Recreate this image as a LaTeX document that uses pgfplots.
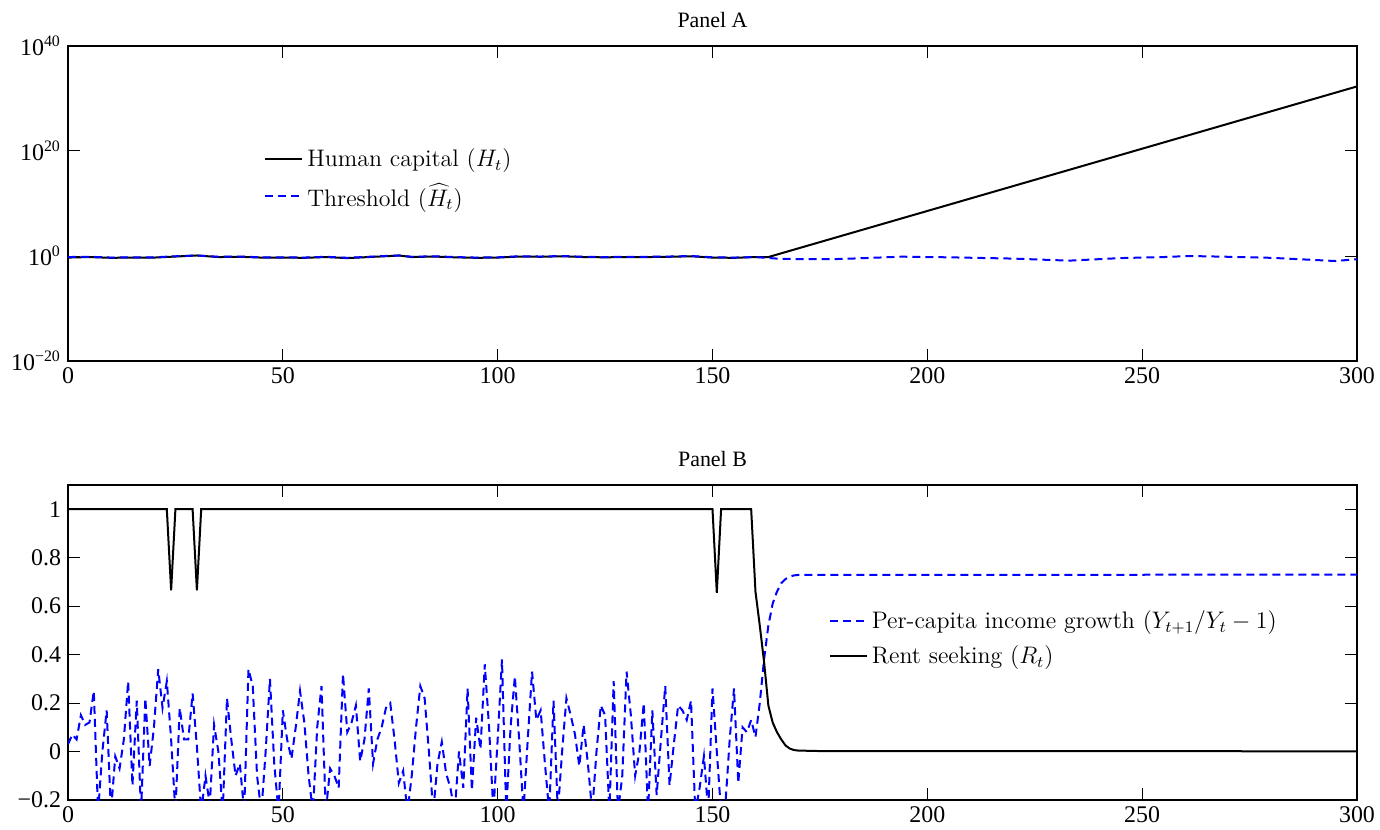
\documentclass[border=0pt]{standalone}
\usepackage{fontspec}
\usepackage{pgfplots}
\pgfplotsset{compat=1.18}
\newfontfamily\tnr{Liberation Serif}
\definecolor{mblue}{RGB}{0,0,255}
\pgfplotsset{
  every axis/.append style={
    scale only axis, width=644.5bp, height=157.5bp,
    xmin=0, xmax=300, xtick={0,50,...,300},
    tick align=inside, major tick length=6bp,
    axis line style={line width=0.6bp},
    tick style={black, line width=0.5bp},
    tick label style={font=\tnr\fontsize{12}{14}\selectfont},
    /pgf/number format/assume math mode=true,
    title style={font=\tnr\fontsize{11}{13}\selectfont, at={(0.5,1)}, anchor=south, yshift=-0.5bp},
    legend cell align=left,
    legend style={draw=none, fill=none, font=\fontsize{12}{14}\selectfont, inner sep=0pt},
    legend image code/.code={\draw[#1] (0bp,0bp) -- (18.5bp,0bp);},
    clip=true,
  },
}
\begin{document}
\begin{tikzpicture}
\path[use as bounding box] (-34bp,-234.5bp) rectangle (656bp,180.5bp);
\begin{axis}[name=A, at={(0,0)}, anchor=south west,
  title={Panel A},
  ymode=log, ymin=1e-20, ymax=1e40,
  ytick={1e-20,1,1e20,1e40}, yminorticks=false,
  yticklabels={10\textsuperscript{−20},10\textsuperscript{0},10\textsuperscript{20},10\textsuperscript{40}},
  legend style={at={(0.152,0.688)}, anchor=north west, row sep=3bp},
]
\addplot[black, line width=1bp] coordinates {
(0,0.50) (5,0.63) (10,0.45) (15,0.50) (20,0.50) (25,0.79) (30,1.26) (35,0.63) (40,0.71) (45,0.50)
(50,0.50) (55,0.45) (60,0.63) (65,0.40) (70,0.63) (75,1.00) (77,1.26) (80,0.63) (85,0.79) (90,0.56)
(95,0.45) (100,0.50) (105,0.79) (110,0.71) (115,0.89) (120,0.63) (125,0.56) (130,0.63) (135,0.63)
(140,0.71) (145,0.89) (150,0.50) (155,0.45) (160,0.63) (163,0.63) (300,2e32)};
\addlegendentry{Human capital ($H_t$)}
\addplot[mblue, line width=1bp, dash pattern=on 4bp off 2.5bp] coordinates {
(0,0.63) (5,0.71) (10,0.50) (15,0.56) (20,0.56) (25,0.89) (30,1.26) (35,0.71) (40,0.79) (45,0.56)
(50,0.56) (55,0.50) (60,0.71) (65,0.45) (70,0.71) (75,1.12) (77,1.26) (80,0.71) (85,0.89) (90,0.63)
(95,0.50) (100,0.56) (105,0.89) (110,0.79) (115,1.00) (120,0.71) (125,0.63) (130,0.71) (135,0.71)
(140,0.79) (145,1.00) (150,0.56) (155,0.50) (160,0.63) (165,0.32) (170,0.25) (180,0.27) (194,0.74)
(205,0.56) (220,0.32) (233,0.13) (245,0.40) (255,0.63) (261,1.00) (270,0.71) (280,0.45) (295,0.11) (300,0.25)};
\addlegendentry{Threshold ($\widehat{H}_t$)}
\end{axis}

\begin{axis}[name=B, at={(0,-219.5bp)}, anchor=south west,
  title={Panel B},
  ymin=-0.2, ymax=1.1,
  ytick={-0.2,0,0.2,0.4,0.6,0.8,1},
  yticklabels={−0.2,0,0.2,0.4,0.6,0.8,1},
  legend style={at={(0.59,0.615)}, anchor=north west, row sep=3bp},
]
\addplot[mblue, line width=1bp, dash pattern=on 4bp off 2.5bp] table {
x y
0 0.03
1 0.07
2 0.05
3 0.15
4 0.11
5 0.12
6 0.25
7 -0.25
8 0.00
9 0.17
10 -0.25
11 -0.02
12 -0.07
13 0.05
14 0.29
15 -0.14
16 0.21
17 -0.25
18 0.22
19 -0.06
20 0.10
21 0.34
22 0.18
23 0.29
24 0.05
25 -0.25
26 0.18
27 0.05
28 0.05
29 0.24
30 0.02
31 -0.25
32 -0.10
33 -0.22
34 0.11
35 0.00
36 -0.25
37 0.22
38 0.05
39 -0.10
40 -0.05
41 -0.25
42 0.34
43 0.27
44 -0.10
45 -0.25
46 0.00
47 0.30
48 -0.05
49 -0.25
50 0.17
51 0.05
52 -0.03
53 0.10
54 0.25
55 0.12
56 -0.10
57 -0.25
58 0.10
59 0.27
60 -0.25
61 -0.07
62 -0.10
63 -0.15
64 0.32
65 0.08
66 0.12
67 0.19
68 -0.04
69 0.05
70 0.26
71 -0.05
72 0.05
73 0.10
74 0.18
75 0.20
76 0.05
77 -0.13
78 -0.08
79 -0.25
80 -0.10
81 0.10
82 0.27
83 0.22
84 0.00
85 -0.25
86 -0.05
87 0.04
88 -0.09
89 -0.15
90 -0.25
91 0.00
92 -0.15
93 0.26
94 -0.16
95 0.14
96 0.01
97 0.36
98 0.10
99 -0.25
100 0.05
101 0.38
102 -0.25
103 0.10
104 0.31
105 0.05
106 -0.25
107 0.05
108 0.33
109 0.13
110 0.17
111 -0.05
112 -0.25
113 0.21
114 -0.25
115 0.00
116 0.22
117 0.15
118 0.07
119 -0.06
120 0.11
121 -0.05
122 -0.25
123 0.00
124 0.19
125 0.15
126 -0.25
127 0.29
128 -0.25
129 -0.10
130 0.33
131 0.15
132 -0.10
133 0.00
134 0.20
135 -0.25
136 0.17
137 -0.18
138 0.05
139 0.27
140 -0.14
141 0.03
142 0.19
143 0.17
144 0.13
145 0.21
146 -0.25
147 -0.15
148 -0.02
149 -0.25
150 0.26
151 0.00
152 -0.25
153 -0.22
154 0.05
155 0.26
156 -0.13
157 0.10
158 0.08
159 0.13
160 0.06
161 0.20
162 0.38
163 0.52
164 0.61
165 0.66
166 0.695
167 0.712
168 0.722
169 0.727
170 0.729
300 0.73
};
\addlegendentry{Per-capita income growth ($Y_{t+1}/Y_t-1$)}
\addplot[black, line width=1bp] coordinates {
(0,1) (23,1) (24,0.665) (25,1) (29,1) (30,0.665) (31,1) (150,1) (151,0.655) (152,1) (159,1)
(160,0.66) (161,0.52) (162,0.37) (163,0.19) (164,0.12) (165,0.08) (166,0.05) (167,0.025)
(168,0.012) (169,0.006) (170,0.004) (175,0.002) (300,0.001)};
\addlegendentry{Rent seeking ($R_t$)}
\end{axis}
\end{tikzpicture}
\end{document}
